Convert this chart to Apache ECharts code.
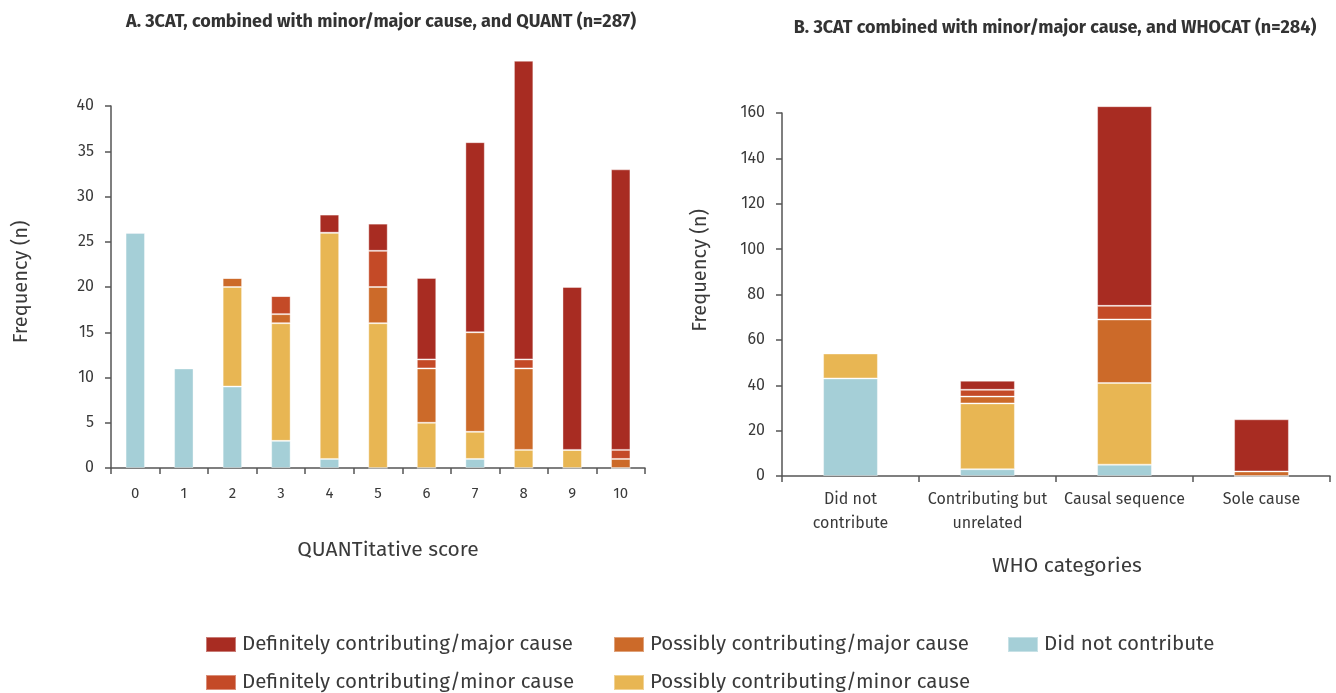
<!DOCTYPE html>
<html>
<head>
<meta charset="utf-8">
<script src="https://cdn.jsdelivr.net/npm/echarts@6/dist/echarts.min.js"></script>
<style>
html,body{margin:0;padding:0;background:#fff;}
#chart{width:1336px;height:693px;}
</style>
</head>
<body>
<div id="chart"></div>
<script>
// ---- Data ----
const seriesNames = [
  'Did not contribute',
  'Possibly contributing/minor cause',
  'Possibly contributing/major cause',
  'Definitely contributing/minor cause',
  'Definitely contributing/major cause'
];
const seriesColors = ['#a5cfd7', '#e8b653', '#cc6a29', '#c44a27', '#a82c22'];

// Panel A: QUANTitative score 0..10
const quantCategories = ['0','1','2','3','4','5','6','7','8','9','10'];
const quantDidNot      = [26, 11, 9, 3, 1, 0, 0, 1, 0, 0, 0];
const quantPossMinor   = [0, 0, 11, 13, 25, 16, 5, 3, 2, 2, 0];
const quantPossMajor   = [0, 0, 1, 1, 0, 4, 6, 11, 9, 0, 1];
const quantDefMinor    = [0, 0, 0, 2, 0, 4, 1, 0, 1, 0, 1];
const quantDefMajor    = [0, 0, 0, 0, 2, 3, 9, 21, 33, 18, 31];

// Panel B: WHO categories
const whoCategories = ['Did not contribute', 'Contributing but unrelated', 'Causal sequence', 'Sole cause'];
const whoTickLabels = ['Did not\ncontribute', 'Contributing but\nunrelated', 'Causal sequence', 'Sole cause'];
const whoDidNot    = [43, 3, 5, 0];
const whoPossMinor = [11, 29, 36, 0];
const whoPossMajor = [0, 3, 28, 2];
const whoDefMinor  = [0, 3, 6, 0];
const whoDefMajor  = [0, 4, 88, 23];

const quantTicks = [0, 5, 10, 15, 20, 25, 30, 35, 40];
const whoTicks = [0, 20, 40, 60, 80, 100, 120, 140, 160];

// ---- Chart ----
const FONT = '"Fira Sans", "Noto Sans", sans-serif';
const TXT = '#3a3a3a';
const AX = '#555555';

const quantData = [quantDidNot, quantPossMinor, quantPossMajor, quantDefMinor, quantDefMajor];
const whoData = [whoDidNot, whoPossMinor, whoPossMajor, whoDefMinor, whoDefMajor];

const series = [];
seriesNames.forEach((n, i) => {
  series.push({
    name: n, type: 'bar', stack: 'A', xAxisIndex: 0, yAxisIndex: 0,
    data: quantData[i], barWidth: '40%', clip: false,
    itemStyle: { color: seriesColors[i], borderColor: 'rgba(255,255,255,0.38)', borderWidth: 1 }
  });
});
seriesNames.forEach((n, i) => {
  series.push({
    name: n, type: 'bar', stack: 'B', xAxisIndex: 1, yAxisIndex: 1,
    data: whoData[i], barWidth: '40%', clip: false,
    itemStyle: { color: seriesColors[i], borderColor: 'rgba(255,255,255,0.38)', borderWidth: 1 }
  });
});

const legendPos = [
  { name: seriesNames[4], left: 205, top: 634 },
  { name: seriesNames[2], left: 613, top: 634 },
  { name: seriesNames[0], left: 1007, top: 634 },
  { name: seriesNames[3], left: 205, top: 672 },
  { name: seriesNames[1], left: 613, top: 672 }
];

const axisCommonX = {
  type: 'category',
  axisLine: { lineStyle: { color: AX, width: 1.5 } },
  axisTick: { show: true, length: 6, lineStyle: { color: AX, width: 1.5 } },
  axisLabel: { color: TXT, fontFamily: FONT, fontSize: 15, interval: 0 },
  nameLocation: 'middle',
  nameTextStyle: { color: TXT, fontFamily: FONT, fontSize: 21 }
};
const axisCommonY = {
  type: 'value',
  axisLine: { show: true, lineStyle: { color: AX, width: 1.5 } },
  axisTick: { show: true, length: 6, lineStyle: { color: AX, width: 1.5 } },
  splitLine: { show: false },
  axisLabel: { color: TXT, fontFamily: FONT, fontSize: 16, margin: 17 },
  nameLocation: 'middle',
  nameRotate: 90,
  nameTextStyle: { color: TXT, fontFamily: FONT, fontSize: 20 }
};

const option = {
  animation: false,
  backgroundColor: '#fff',
  textStyle: { fontFamily: FONT },
  title: [
    { text: 'A. 3CAT, combined with minor/major cause, and QUANT (n=287)', left: 376, top: 8, textAlign: 'center',
      textStyle: { fontFamily: FONT, fontSize: 18, fontWeight: 'bold', color: '#333' } },
    { text: 'B. 3CAT combined with minor/major cause, and WHOCAT (n=284)', left: 1050, top: 14, textAlign: 'center',
      textStyle: { fontFamily: FONT, fontSize: 18, fontWeight: 'bold', color: '#333' } }
  ],
  legend: legendPos.map(p => ({
    data: [p.name], left: p.left, top: p.top, itemWidth: 30, itemHeight: 15, itemGap: 0, padding: 0,
    icon: 'rect', selectedMode: false,
    textStyle: { color: TXT, fontFamily: FONT, fontSize: 20.5, padding: [0, 0, 0, 1] }
  })),
  grid: [
    { left: 111, top: 106, width: 534, height: 362 },
    { left: 782, top: 113, width: 548, height: 363 }
  ],
  xAxis: [
    Object.assign({}, axisCommonX, { gridIndex: 0, data: quantCategories, name: 'QUANTitative score', nameGap: 72,
      nameTextStyle: Object.assign({}, axisCommonX.nameTextStyle, { padding: [0, 0, 0, 20] }),
      axisLabel: Object.assign({}, axisCommonX.axisLabel, { margin: 18 }) }),
    Object.assign({}, axisCommonX, { gridIndex: 1, data: whoCategories, name: 'WHO categories', nameGap: 80,
      nameTextStyle: Object.assign({}, axisCommonX.nameTextStyle, { padding: [0, 0, 0, 22] }),
      axisLabel: Object.assign({}, axisCommonX.axisLabel, { fontSize: 16, lineHeight: 24, margin: 12,
        formatter: (v, i) => whoTickLabels[i] }) })
  ],
  yAxis: [
    Object.assign({}, axisCommonY, { gridIndex: 0, min: quantTicks[0], max: quantTicks[quantTicks.length - 1], interval: 5,
      name: 'Frequency (n)', nameGap: 80,
      nameTextStyle: Object.assign({}, axisCommonY.nameTextStyle, { padding: [0, 0, 0, 10] }) }),
    Object.assign({}, axisCommonY, { gridIndex: 1, min: whoTicks[0], max: whoTicks[whoTicks.length - 1], interval: 20,
      name: 'Frequency (n)', nameGap: 72,
      nameTextStyle: Object.assign({}, axisCommonY.nameTextStyle, { padding: [0, 0, 0, 48] }) })
  ],
  series: series
};

const chart = echarts.init(document.getElementById('chart'), null, { renderer: 'canvas' });
chart.setOption(option);
</script>
</body>
</html>
